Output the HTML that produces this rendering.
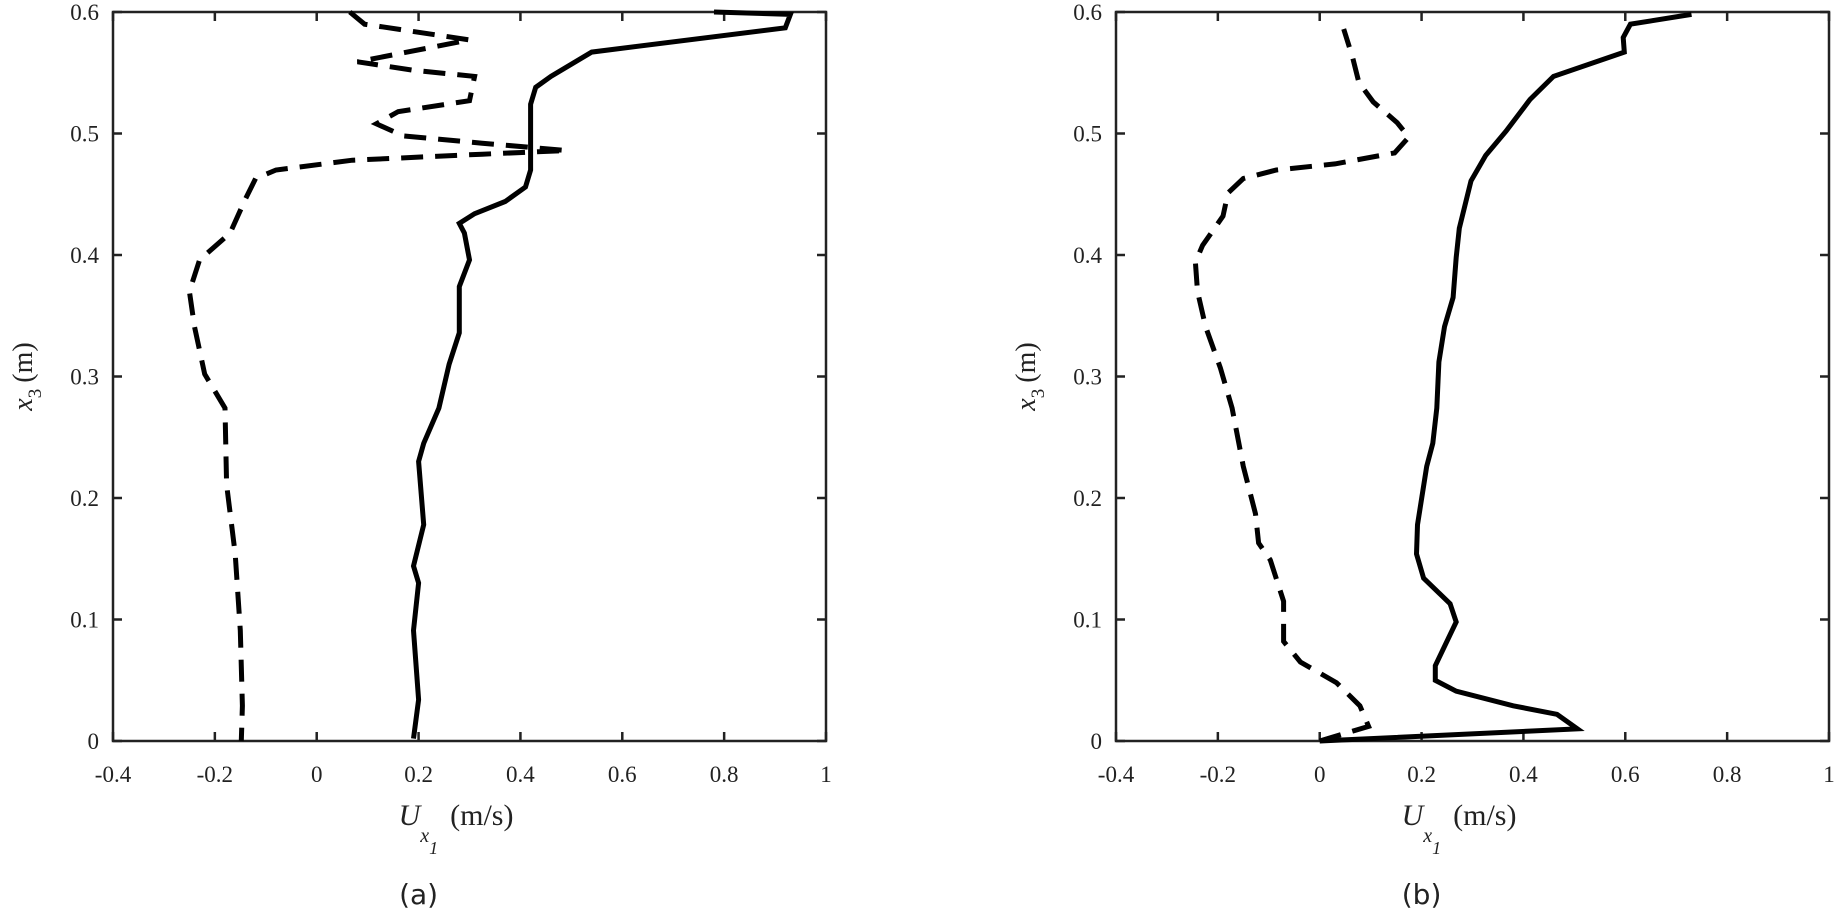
<!DOCTYPE html>
<html>
<head>
<meta charset="utf-8">
<style>
html,body{margin:0;padding:0;background:#fff;}
svg{display:block;}
.tick{font-family:"Liberation Serif",serif;font-size:23px;fill:#222;}
.lab{font-family:"Liberation Serif",serif;fill:#222;}
.cap{font-family:"DejaVu Sans","Liberation Sans",sans-serif;font-size:28px;fill:#222;}
</style>
</head>
<body>
<svg id="fig" width="1847" height="914" viewBox="0 0 1847 914" xmlns="http://www.w3.org/2000/svg"></svg>
<script>
const xTicks = [-0.4,-0.2,0,0.2,0.4,0.6,0.8,1];
const xTickLabels = ["-0.4","-0.2","0","0.2","0.4","0.6","0.8","1"];
const yTicks = [0,0.1,0.2,0.3,0.4,0.5,0.6];
const yTickLabels = ["0","0.1","0.2","0.3","0.4","0.5","0.6"];

const aSolidX = [0.78,0.93,0.92,0.54,0.46,0.43,0.42,0.42,0.41,0.37,0.31,0.28,0.29,0.30,0.28,0.28,0.26,0.24,0.21,0.20,0.21,0.19,0.20,0.19,0.20,0.19];
const aSolidY = [0.600,0.598,0.587,0.567,0.547,0.538,0.524,0.470,0.456,0.444,0.434,0.426,0.418,0.396,0.374,0.336,0.310,0.274,0.245,0.230,0.178,0.144,0.130,0.091,0.034,0.002];
const aDashX = [0.065,0.094,0.30,0.08,0.19,0.31,0.30,0.16,0.117,0.17,0.325,0.49,0.325,0.07,-0.08,-0.12,-0.14,-0.17,-0.23,-0.25,-0.24,-0.22,-0.18,-0.177,-0.16,-0.15,-0.146,-0.148];
const aDashY = [0.600,0.590,0.577,0.559,0.552,0.547,0.527,0.518,0.508,0.498,0.492,0.486,0.483,0.478,0.470,0.463,0.446,0.418,0.396,0.370,0.341,0.302,0.274,0.211,0.154,0.091,0.029,0.000];

const bSolidX = [0,0.506,0.466,0.38,0.268,0.227,0.227,0.268,0.256,0.204,0.19,0.192,0.21,0.222,0.23,0.234,0.245,0.262,0.268,0.274,0.297,0.326,0.366,0.413,0.459,0.598,0.596,0.61,0.73];
const bSolidY = [0,0.010,0.022,0.029,0.041,0.050,0.062,0.098,0.113,0.134,0.154,0.178,0.226,0.245,0.274,0.312,0.341,0.365,0.398,0.422,0.461,0.482,0.502,0.528,0.547,0.567,0.579,0.590,0.598];
const bDashX = [0,0.096,0.079,0.033,-0.038,-0.071,-0.071,-0.097,-0.12,-0.126,-0.15,-0.172,-0.195,-0.224,-0.24,-0.244,-0.23,-0.19,-0.18,-0.15,-0.085,0.03,0.147,0.175,0.152,0.105,0.077,0.065,0.047];
const bDashY = [0,0.012,0.029,0.048,0.065,0.082,0.115,0.149,0.163,0.187,0.226,0.274,0.307,0.341,0.370,0.394,0.408,0.432,0.451,0.463,0.470,0.475,0.484,0.497,0.509,0.526,0.542,0.562,0.586];

const NS = "http://www.w3.org/2000/svg";
const svg = document.getElementById('fig');
function mk(tag, attrs, parent){
  const e = document.createElementNS(NS, tag);
  for (const k in attrs) e.setAttribute(k, attrs[k]);
  (parent||svg).appendChild(e);
  return e;
}

function panel(key, left, solidX, solidY, dashX, dashY, ylabX, caption){
  const top = 12, bottom = 741, right = left + 713;
  const sx = v => left + (v + 0.4) / 1.4 * (right - left);
  const sy = v => bottom - v / 0.6 * (bottom - top);
  const g = mk('g', {});
  
  

  const fr = mk('rect', {x:left, y:top, width:right-left, height:bottom-top, fill:'none', stroke:'#222', 'stroke-width':2.5}, g);
  
  

  xTicks.forEach((t, i) => {
    const x = sx(t);
    const tk = mk('path', {d:`M${x},${bottom}V${bottom-9}M${x},${top}V${top+9}`, stroke:'#222', 'stroke-width':2.5}, g);
    
    
    const tl = mk('text', {x:x, y:782, 'text-anchor':'middle', class:'tick'}, g);
    tl.textContent = xTickLabels[i];
    
    
  });
  yTicks.forEach((t, i) => {
    const y = sy(t);
    const tk = mk('path', {d:`M${left},${y}H${left+9}M${right},${y}H${right-9}`, stroke:'#222', 'stroke-width':2.5}, g);
    
    
    const tl = mk('text', {x:left-14, y:y+8, 'text-anchor':'end', class:'tick'}, g);
    tl.textContent = yTickLabels[i];
    
    
  });

  const pts = (X, Y) => X.map((v, i) => sx(v).toFixed(1) + ',' + sy(Y[i]).toFixed(1)).join(' ');
  const ds = mk('polyline', {points:pts(dashX, dashY), fill:'none', stroke:'#000', 'stroke-width':5, 'stroke-dasharray':'22 12', 'stroke-linejoin':'miter'}, g);
  
  
  const sl = mk('polyline', {points:pts(solidX, solidY), fill:'none', stroke:'#000', 'stroke-width':5, 'stroke-linejoin':'miter'}, g);
  
  

  const xl = mk('text', {x:sx(0.2) - 20, y:825, class:'lab', 'font-size':30}, g);
  
  
  xl.innerHTML = '<tspan font-style="italic">U</tspan><tspan font-style="italic" font-size="20" dy="17">x</tspan><tspan font-style="italic" font-size="18" dy="12">1</tspan><tspan dy="-29" dx="12">(m/s)</tspan>';

  const yl = mk('text', {x:0, y:0, class:'lab', 'font-size':28, 'text-anchor':'middle', transform:`translate(${ylabX},${sy(0.3)}) rotate(-90)`}, g);
  
  
  yl.innerHTML = '<tspan font-style="italic">x</tspan><tspan font-size="19" dy="9">3</tspan><tspan dy="-9" dx="6">(m)</tspan>';

  const cp = mk('text', {x:sx(0.2), y:904, 'text-anchor':'middle', class:'cap'}, g);
  cp.textContent = caption;
  
  
}

panel('a', 113, aSolidX, aSolidY, aDashX, aDashY, 32, '(a)');
panel('b', 1116, bSolidX, bSolidY, bDashX, bDashY, 1035, '(b)');
</script>
</body>
</html>
